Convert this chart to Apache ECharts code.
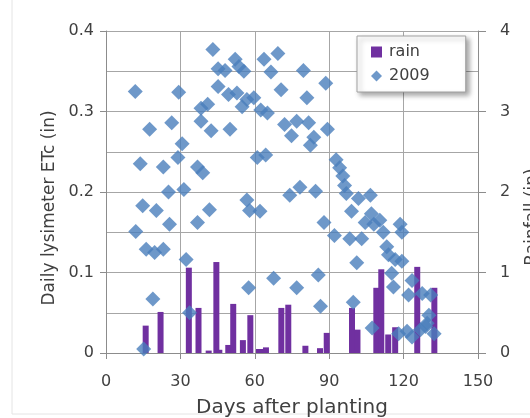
<!DOCTYPE html>
<html>
<head>
<meta charset="utf-8">
<script src="https://cdn.jsdelivr.net/npm/echarts@6/dist/echarts.min.js"></script>
<style>html,body{margin:0;padding:0;background:#fff;}#c{width:530px;height:418px;}</style>
</head>
<body>
<div id="c"></div>
<script>
// Days after planting (x ticks)
const xTicks = [0, 30, 60, 90, 120, 150];
const etTicks = [0, 0.1, 0.2, 0.3, 0.4];
const rainTicks = [0, 1, 2, 3, 4];

// Daily rainfall (in)
const rainDays = [16, 22, 33.4, 37.3, 41.4, 44.5, 45.7, 49.3, 51.3, 55.2, 58.2, 61.7, 62.7, 64.5, 70.7, 73.5, 80.4, 86.3, 89, 99.2, 101.4, 109, 111, 113.8, 116.6, 125.5, 132.4];
const rainVals = [0.34, 0.51, 1.06, 0.56, 0.03, 1.13, 0.04, 0.1, 0.61, 0.16, 0.47, 0.05, 0.05, 0.07, 0.56, 0.6, 0.09, 0.06, 0.25, 0.56, 0.29, 0.81, 1.04, 0.23, 0.32, 1.07, 0.81];

// 2009 daily lysimeter ETc (in)
const etDays = [
 11.8, 29.3, 43.1, 52.1, 45.2, 48, 45.2, 49.4, 52.8, 38.3, 41, 54.9, 38.3, 26.5, 17.6, 42.4, 50, 30.7, 29, 13.8, 23.1, 36.9, 39,
 25.2, 31.4, 14.8, 20.3, 25.6, 12, 41.7, 36.9, 16.2, 19.6, 23.1, 32.3, 18.9, 33.7, 15.2,
 53.6, 55.6, 63.7, 69.3, 66.5, 79.6, 88.6, 70.6, 81, 56.8, 59.6, 62.4, 65.1, 72, 76.9, 81.7, 74.8, 89.3, 83.8, 82.4, 61, 64.4, 92.8, 94.2, 95.5,
 56.8, 57.9, 62.1, 78.2, 84.5, 74.1, 96.2, 96.9, 101.8, 106.6, 99, 87.9, 92.1, 98.3, 103.1, 104.5, 108, 101.1, 67.6, 85.6, 57.5, 76.9, 86.5, 99.7, 107.3,
 107, 110.4, 111.8, 118.6, 119.3, 113.2, 113.9, 116.6, 119.3, 115.2, 115.9, 123.4, 122, 127.5, 130.9, 130.2, 129.5, 118, 121.4, 123.4, 126.8, 128.9, 132.3
];
const etVals = [
 0.325, 0.324, 0.377, 0.365, 0.353, 0.351, 0.331, 0.321, 0.323, 0.304, 0.309, 0.306, 0.288, 0.286, 0.278, 0.276, 0.278, 0.26, 0.243, 0.235, 0.231, 0.231, 0.224,
 0.2, 0.203, 0.183, 0.177, 0.16, 0.151, 0.178, 0.162, 0.129, 0.125, 0.129, 0.116, 0.067, 0.05, 0.005,
 0.356, 0.35, 0.365, 0.372, 0.349, 0.351, 0.335, 0.327, 0.317, 0.315, 0.317, 0.302, 0.298, 0.284, 0.288, 0.286, 0.27, 0.278, 0.268, 0.258, 0.243, 0.246, 0.24, 0.23, 0.22,
 0.19, 0.177, 0.176, 0.206, 0.201, 0.196, 0.208, 0.198, 0.192, 0.196, 0.176, 0.162, 0.146, 0.142, 0.142, 0.162, 0.16, 0.112, 0.093, 0.097, 0.081, 0.081, 0.058, 0.063, 0.031,
 0.173, 0.165, 0.15, 0.16, 0.15, 0.132, 0.122, 0.116, 0.114, 0.099, 0.082, 0.09, 0.072, 0.074, 0.072, 0.047, 0.037, 0.024, 0.027, 0.02, 0.029, 0.033, 0.024
];

const chart = echarts.init(document.getElementById('c'), null, {renderer: 'canvas'});
const txt = '#404040';
const font = 'DejaVu Sans';
chart.setOption({
  animation: false,
  backgroundColor: '#fff',
  textStyle: {fontFamily: font},
  graphic: [{
    type: 'rect', z: -10, silent: true,
    shape: {x: 12, y: -5, width: 530, height: 419},
    style: {fill: 'none', stroke: '#e4e4e4', lineWidth: 1}
  }],
  grid: {left: 106, right: 52, top: 31, bottom: 65, containLabel: false, outerBoundsMode: 'none'},
  legend: {
    orient: 'vertical', left: 357, top: 36,
    data: [{name: 'rain', icon: 'rect'}, {name: '2009', icon: 'diamond'}],
    itemWidth: 11, itemHeight: 11, itemGap: 8,
    padding: [8, 36, 8, 14],
    backgroundColor: '#fff', borderColor: '#a0a0a0', borderWidth: 1,
    shadowBlur: 5, shadowColor: 'rgba(0,0,0,0.35)', shadowOffsetX: 3, shadowOffsetY: 3,
    textStyle: {fontSize: 16, color: txt, fontFamily: font, padding: [0, 0, 0, 2]}
  },
  xAxis: {
    type: 'value', min: xTicks[0], max: xTicks[xTicks.length - 1], interval: 30,
    axisLine: {show: true, onZero: false, lineStyle: {color: '#8c8c8c', width: 1}},
    axisTick: {show: true, length: 6, lineStyle: {color: '#8c8c8c'}},
    splitLine: {show: true, lineStyle: {color: '#a6a6a6', width: 1}},
    axisLabel: {fontSize: 16, color: txt, margin: 21, fontFamily: font},
    name: 'Days after planting', nameLocation: 'middle', nameGap: 45,
    nameTextStyle: {fontSize: 20, color: txt, fontFamily: font}
  },
  yAxis: [{
    type: 'value', min: etTicks[0], max: etTicks[etTicks.length - 1], interval: 0.1,
    axisLine: {show: true, lineStyle: {color: '#8c8c8c'}},
    axisTick: {show: true, length: 6, lineStyle: {color: '#8c8c8c'}},
    splitLine: {show: true, lineStyle: {color: '#a6a6a6'}},
    minorTick: {show: false, splitNumber: 2},
    minorSplitLine: {show: true, lineStyle: {color: '#a6a6a6'}},
    axisLabel: {fontSize: 16, color: txt, margin: 12, fontFamily: font,
      formatter: v => (v === 0 ? '0' : v.toFixed(1))},
    name: 'Daily lysimeter ETc (in)', nameLocation: 'middle', nameGap: 44, nameRotate: 90,
    nameTextStyle: {fontSize: 17, color: txt, fontFamily: font, padding: [0, 32, 0, 0]}
  }, {
    type: 'value', position: 'right', min: rainTicks[0], max: rainTicks[rainTicks.length - 1], interval: 1,
    axisLine: {show: true, lineStyle: {color: '#8c8c8c'}},
    axisTick: {show: true, length: 8, lineStyle: {color: '#8c8c8c'}},
    splitLine: {show: false},
    axisLabel: {fontSize: 16, color: txt, margin: 22, fontFamily: font},
    name: 'Rainfall (in)', nameLocation: 'middle', nameGap: 46, nameRotate: 90,
    nameTextStyle: {fontSize: 17, color: txt, fontFamily: font, padding: [0, 50, 0, 0]}
  }],
  series: [{
    name: 'rain', type: 'bar', yAxisIndex: 1, barWidth: 6, z: 2,
    itemStyle: {color: '#7030A0'},
    data: rainDays.map((d, i) => [d, rainVals[i]])
  }, {
    name: '2009', type: 'scatter', yAxisIndex: 0, symbol: 'diamond', symbolSize: 15, z: 3,
    itemStyle: {color: '#4A7EBB'},
    data: etDays.map((d, i) => [d, etVals[i]])
  }]
});
</script>
</body>
</html>
